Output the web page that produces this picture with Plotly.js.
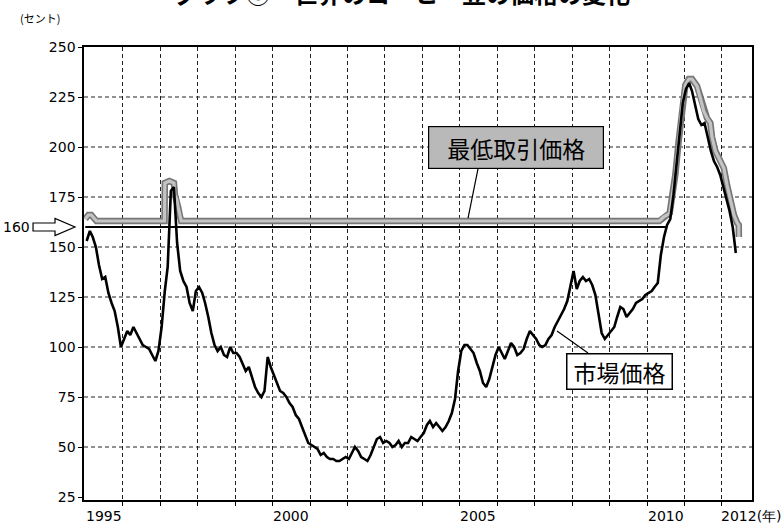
<!DOCTYPE html>
<html><head><meta charset="utf-8">
<script src="https://cdn.plot.ly/plotly-3.0.1.min.js"></script>
<style>html,body{margin:0;padding:0;background:#fff}#chart{width:783px;height:524px}</style>
</head><body><div id="chart"></div>
<script>
// ---- data (cents) ----
const firstYear = 1995;
const p1995 = [153,158,155,150,141,134,135,127,122,118,110,100];
const p1996 = [104,108,106,110,107,104,101,100,99,96,93,98];
const p1997 = [110,128,140,178,180,152,138,133,130,122,118,128];
const p1998 = [130,127,122,115,107,101,98,100,96,95,100,97];
const p1999 = [97,95,92,88,90,85,80,77,75,78,95,90];
const p2000 = [86,82,78,77,75,72,70,66,64,60,56,52];
const p2001 = [51,50,49,46,47,45,44,44,43,43,44,45];
const p2002 = [44,47,50,48,45,44,43,46,50,54,55,52];
const p2003 = [53,52,50,51,53,50,52,52,55,54,53,55];
const p2004 = [57,61,63,60,62,60,58,60,63,67,74,88];
const p2005 = [98,101,101,99,97,92,88,82,80,84,90,96];
const p2006 = [100,97,94,98,102,100,96,97,99,104,108,106];
const p2007 = [104,101,100,101,104,106,110,113,116,119,123,130];
const p2008 = [138,129,133,135,133,134,131,126,115,107,104,106];
const p2009 = [108,110,115,120,119,115,117,119,122,123,124,126];
const p2010 = [127,128,130,132,146,155,161,164,176,191,206,222];
const p2011 = [229,232,228,221,214,211,212,205,198,193,190,186];
const p2012 = [180,174,168,160,147];

// minimum trading price (最低取引価格)
const minDates = ['1995-01-01','1995-02-01','1995-03-01','1995-04-01','1995-04-20',
  '1997-02-12','1997-02-15','1997-04-01','1997-05-15','1997-05-25','1997-06-10','1997-06-25','1997-07-10','1997-07-25',
  '2010-05-01','2010-06-10','2010-07-15','2010-08-10','2010-09-01','2010-10-03','2010-11-05','2010-12-08',
  '2011-01-09','2011-02-12','2011-03-15','2011-05-03','2011-06-04','2011-07-07','2011-08-08','2011-09-10',
  '2011-09-26','2011-10-29','2011-12-16','2012-01-19','2012-02-20','2012-03-24','2012-04-27','2012-05-29',
  '2012-06-13','2012-06-14'];
const minPrices = [164,166,166,164,163,
  163,182,183,182,176,174,170,166,163,
  163,165,166,167,175,186,203,219.5,
  231,234,234,230.5,224.5,218,214.5,212,
  205,198,193,189.5,181,173,166,162,
  161,155];

// 160 reference line
const refDates = ['1995-01-01','2010-07-10'];
const refPrices = [160,160];

const yTicks = [25,50,75,100,125,150,175,200,225,250];
const yGrid = [50,75,100,125,150,175,200,225];
const gridYears = ['1996','1997','1998','1999','2000','2001','2002','2003','2004','2005','2006','2007','2008','2009','2010','2011','2012'];
const labelDates = ['1995-07-01','2000-07-01','2005-07-01','2010-07-01','2012-10-12'];
const labelTexts = ['1995','2000','2005','2010','2012(年)'];

// ---- build ----
const yearly = [p1995,p1996,p1997,p1998,p1999,p2000,p2001,p2002,p2003,p2004,p2005,p2006,p2007,p2008,p2009,p2010,p2011,p2012];
const marketDates = [], marketPrices = [];
yearly.forEach((arr, i) => arr.forEach((v, m) => {
  marketDates.push(`${firstYear + i}-${String(m + 1).padStart(2, '0')}-15`);
  marketPrices.push(v);
}));

const jp = '"Noto Sans CJK JP", sans-serif';
const num = '"DejaVu Sans", sans-serif';

const traces = [
  {x: minDates, y: minPrices, mode: 'lines', line: {color: '#767676', width: 6.5}, hoverinfo: 'skip'},
  {x: minDates, y: minPrices, mode: 'lines', line: {color: '#c4c4c4', width: 3.2}, hoverinfo: 'skip'},
  {x: refDates, y: refPrices, mode: 'lines', line: {color: '#000', width: 2}, hoverinfo: 'skip'},
  {x: marketDates, y: marketPrices, mode: 'lines', line: {color: '#000', width: 2.6}, hoverinfo: 'skip'}
];

const shapes = yGrid.map(v => ({type: 'line', xref: 'paper', x0: 0, x1: 1, yref: 'y', y0: v, y1: v,
  line: {color: '#222', width: 1, dash: '4px,3px'}, layer: 'below'}));
// leader lines
shapes.push({type: 'line', xref: 'paper', yref: 'paper', x0: 0.5749, y0: 0.6225, x1: 0.5898, y1: 0.7307, line: {color: '#000', width: 1.2}});
shapes.push({type: 'line', xref: 'paper', yref: 'paper', x0: 0.7545, y0: 0.3245, x1: 0.7081, y1: 0.3731, line: {color: '#000', width: 1.2}});
// 160 arrow
shapes.push({type: 'path', xref: 'paper', yref: 'y',
  path: 'M-0.0763,162 L-0.0434,162 L-0.0434,164.3 L-0.0135,160 L-0.0434,155.7 L-0.0434,158 L-0.0763,158 Z',
  fillcolor: '#fff', line: {color: '#000', width: 1.2}});

const annotations = labelDates.map((d, i) => ({xref: 'x', x: d, xanchor: 'center', yref: 'paper', y: -0.036, yanchor: 'middle',
  text: labelTexts[i], showarrow: false, font: {family: num, size: 14, color: '#000'}}));
annotations.push({xref: 'paper', x: -0.0778, xanchor: 'right', yref: 'y', y: 160, yanchor: 'middle', text: '160', showarrow: false,
  font: {family: num, size: 14, color: '#000'}});
annotations.push({xref: 'paper', x: -0.066, xanchor: 'center', yref: 'paper', y: 1.064, yanchor: 'middle', text: '(セント)', showarrow: false,
  font: {family: jp, size: 11, color: '#000'}});
annotations.push({xref: 'paper', x: 0.476, xanchor: 'center', yref: 'paper', y: 1.12, yanchor: 'middle', text: '<b>グラフ⑤　世界のコーヒー豆の価格の変化</b>',
  showarrow: false, font: {family: jp, size: 24, color: '#000'}});
annotations.push({xref: 'paper', x: 0.646, xanchor: 'center', yref: 'paper', y: 0.778, yanchor: 'middle', text: '最低取引価格', showarrow: false,
  width: 170, height: 37, bgcolor: '#b9b9b9', bordercolor: '#000', borderwidth: 1.2, borderpad: 2,
  font: {family: jp, size: 23, color: '#000'}});
annotations.push({xref: 'paper', x: 0.802, xanchor: 'center', yref: 'paper', y: 0.283, yanchor: 'middle', text: '市場価格', showarrow: false,
  width: 100, height: 30, bgcolor: '#fff', bordercolor: '#000', borderwidth: 1.5, borderpad: 2,
  font: {family: jp, size: 23, color: '#000'}});

const layout = {
  width: 783, height: 524,
  margin: {l: 84, r: 31, t: 47, b: 24},
  paper_bgcolor: '#fff', plot_bgcolor: '#fff',
  showlegend: false, hovermode: false,
  xaxis: {type: 'date', range: ['1994-12-20', '2012-10-20'],
    tickmode: 'array', tickvals: gridYears.map(y => y + '-01-01'), showticklabels: false,
    ticks: 'outside', ticklen: 4, tickcolor: '#000', tickwidth: 1,
    showgrid: true, gridcolor: '#222', gridwidth: 1, griddash: '4px,3px',
    showline: true, mirror: true, linecolor: '#000', linewidth: 1.6, zeroline: false},
  yaxis: {range: [23.5, 250], tickmode: 'array', tickvals: yTicks,
    ticks: 'outside', ticklen: 4, tickcolor: '#000', showgrid: false,
    showline: true, mirror: true, linecolor: '#000', linewidth: 1.6, zeroline: false,
    tickfont: {family: num, size: 14, color: '#000'}},
  shapes: shapes,
  annotations: annotations
};

Plotly.newPlot('chart', traces, layout, {staticPlot: true, displayModeBar: false});
</script>
</body></html>
